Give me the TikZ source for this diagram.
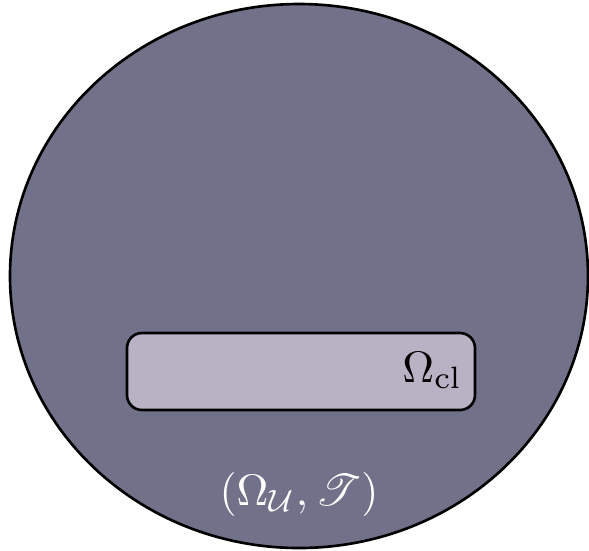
\documentclass[tikz,border=0pt]{standalone}
\usepackage{amsmath}
\usepackage{mathrsfs}
\definecolor{outerfill}{RGB}{113,114,137}
\definecolor{innerfill}{RGB}{185,177,196}
\begin{document}
\begin{tikzpicture}[x=0.227pt,y=-0.227pt,
  region/.style={draw=black,line width=0.6pt},
  lbl/.style={inner sep=0pt}]
\useasboundingbox (0,0) rectangle (589,550);
\path[region,fill=outerfill] (299,276) ellipse [x radius=289, y radius=272];
\path[region,fill=innerfill,rounded corners=3.4pt] (127,333) rectangle (475,410);
\node[lbl,anchor=base east] (cl) at (463,382) {$\Omega_{\mathrm{cl}}$};
\node[lbl,anchor=base,text=white] (top) at (299,505) {$(\Omega_{\mathcal{U}},\mathscr{T})$};
\end{tikzpicture}
\end{document}
